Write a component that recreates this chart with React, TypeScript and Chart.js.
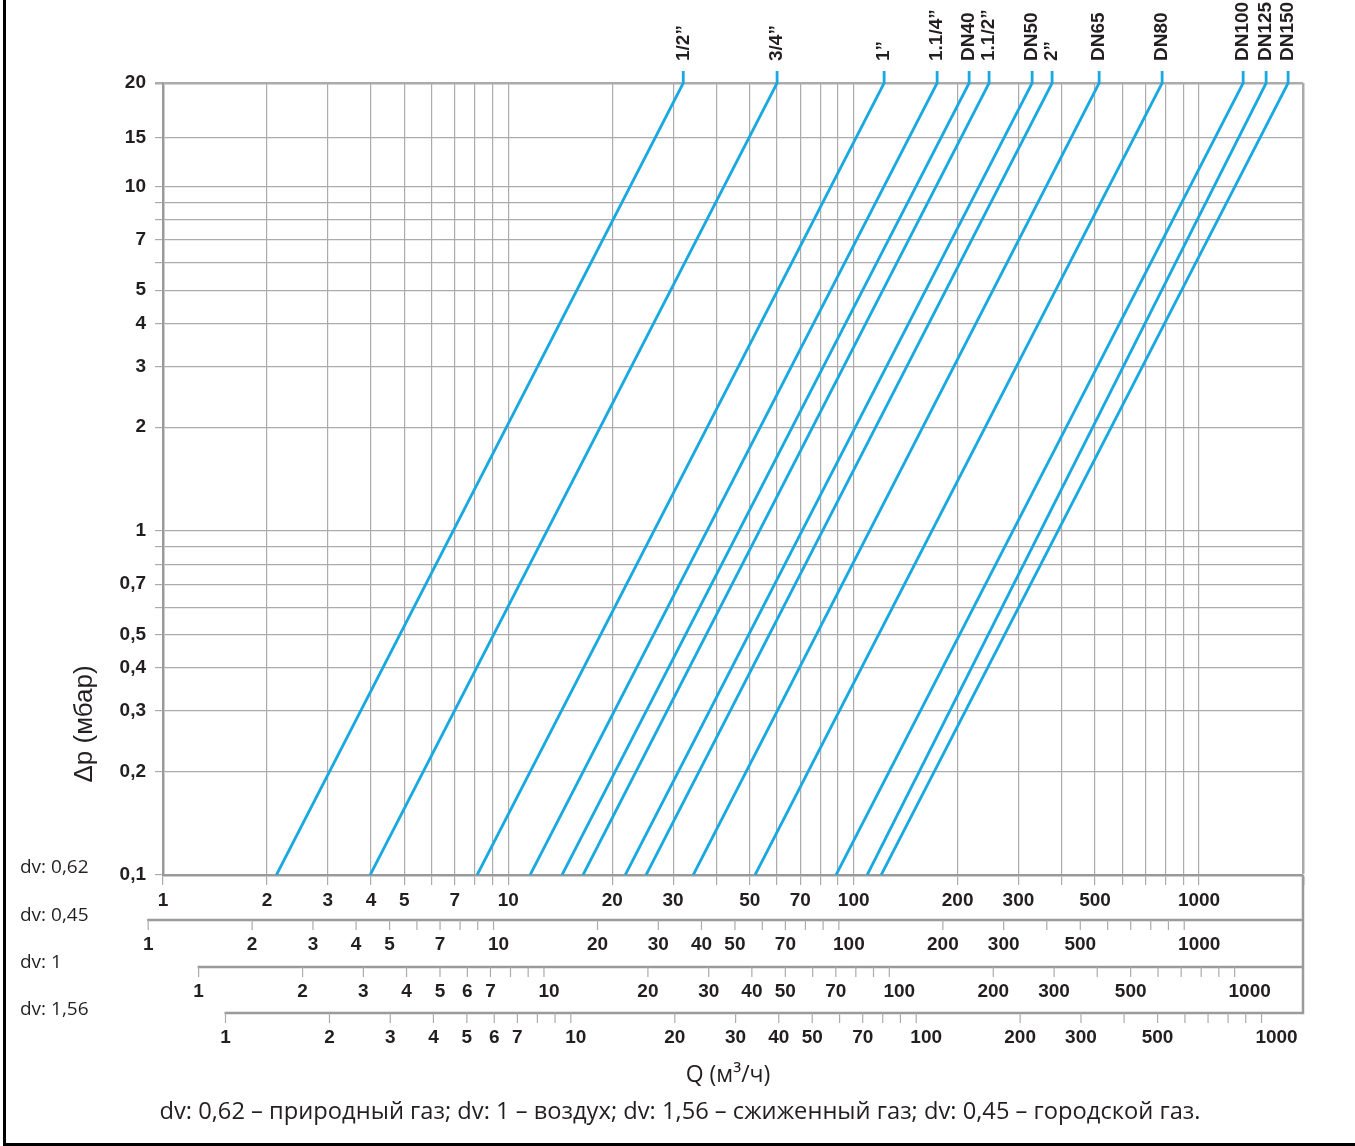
import React, { useEffect, useRef } from "react";
import { Chart, registerables } from "chart.js";

Chart.register(...registerables);

// ---------- data ----------
const SERIES_NAMES = ["1/2”", "3/4”", "1”", "1.1/4”", "DN40", "1.1/2”", "DN50", "2”", "DN65", "DN80", "DN100", "DN125", "DN150"];
// flow Q (m3/h, dv 0.62) where each line meets Δp = 0.1 mbar and Δp = 20 mbar
const Q_AT_MIN_DP = [2.13, 3.98, 8.12, 11.56, 14.3, 16.45, 21.8, 25.05, 34.3, 51.8, 88.9, 109.4, 120.1];
const Q_AT_MAX_DP = [32.1, 60.0, 122.5, 174.4, 215.9, 246.6, 328.6, 375.4, 513.7, 781.8, 1342, 1564, 1811];
const DP_MIN = 0.1;
const DP_MAX = 20;
const Q_MIN = 1;
const Q_MAX = 2000;

const Y_TICKS = [0.1, 0.2, 0.3, 0.4, 0.5, 0.6, 0.7, 0.8, 0.9, 1, 2, 3, 4, 5, 6, 7, 8, 9, 10, 13.9, 20];
const Y_TICK_LABELS = ["0,1", "0,2", "0,3", "0,4", "0,5", "", "0,7", "", "", "1", "2", "3", "4", "5", "", "7", "", "", "10", "15", "20"];

const X_GRID = [1, 2, 3, 4, 5, 6, 7, 8, 9, 10, 20, 30, 40, 50, 60, 70, 80, 90, 100, 200, 300, 400, 500, 600, 700, 800, 900, 1000, 2000];
const X_TICKS_ROW = [1, 2, 3, 4, 5, 6, 7, 8, 9, 10, 20, 30, 40, 50, 60, 70, 80, 90, 100, 200, 300, 400, 500, 600, 700, 800, 900, 1000];

const DV_NAMES = ["dv: 0,62", "dv: 0,45", "dv: 1", "dv: 1,56"];
// position of value v of each dv scale on the dv 0.62 scale = v * factor
const DV_FACTORS = [1, 0.906, 1.268, 1.517];
const ROW_LABELS_062 = [1, 2, 3, 4, 5, 7, 10, 20, 30, 50, 70, 100, 200, 300, 500, 1000];
const ROW_LABELS_045 = [1, 2, 3, 4, 5, 7, 10, 20, 30, 40, 50, 70, 100, 200, 300, 500, 1000];
const ROW_LABELS_1 = [1, 2, 3, 4, 5, 6, 7, 10, 20, 30, 40, 50, 70, 100, 200, 300, 500, 1000];
const ROW_LABELS_156 = [1, 2, 3, 4, 5, 6, 7, 10, 20, 30, 40, 50, 70, 100, 200, 300, 500, 1000];

const Y_TITLE = "Δp (мбар)";
const X_TITLE = "Q (м³/ч)";
const FOOTNOTE = "dv: 0,62 – природный газ; dv: 1 – воздух; dv: 1,56 – сжиженный газ; dv: 0,45 – городской газ.";

// ---------- styles ----------
const LINE_COLOR = "#19a8e0";
const GRID_COLOR = "#ababab";
const FRAME_COLOR = "#9a9a9a";
const TEXT_COLOR = "#231f20";
const ARIAL = "'Liberation Sans', Arial, sans-serif";
const BOLD_FONT = `bold 19px ${ARIAL}`;
const SANS = "'Open Sans', 'Noto Sans', sans-serif";

const W = 1355;
const H = 1146;

const extrasPlugin = {
  id: "extras",
  afterDraw(chart: any) {
    const ctx = chart.ctx as CanvasRenderingContext2D;
    const xs = chart.scales.x;
    const area = chart.chartArea;
    ctx.save();

    // stubs + series labels at the top
    SERIES_NAMES.forEach((name, i) => {
      const meta = chart.getDatasetMeta(i);
      const pt = meta.data[meta.data.length - 1];
      ctx.strokeStyle = LINE_COLOR;
      ctx.lineWidth = 2.8;
      ctx.beginPath();
      ctx.moveTo(pt.x, pt.y + 1);
      ctx.lineTo(pt.x, pt.y - 12);
      ctx.stroke();
      ctx.save();
      ctx.translate(pt.x, pt.y - 22);
      ctx.rotate(-Math.PI / 2);
      ctx.font = BOLD_FONT;
      ctx.fillStyle = TEXT_COLOR;
      ctx.textAlign = "left";
      ctx.textBaseline = "middle";
      ctx.fillText(name, 0, 0);
      ctx.restore();
    });

    // additional dv axes
    const rows = [ROW_LABELS_045, ROW_LABELS_1, ROW_LABELS_156];
    const gaps = [45, 92, 138];
    rows.forEach((labels, r) => {
      const f = DV_FACTORS[r + 1];
      const y0 = area.bottom + gaps[r];
      const x1 = xs.getPixelForValue(Q_MIN * f) - 1;
      ctx.strokeStyle = FRAME_COLOR;
      ctx.lineWidth = 2.5;
      ctx.beginPath();
      ctx.moveTo(x1, y0);
      ctx.lineTo(area.right + 1, y0);
      ctx.stroke();
      ctx.strokeStyle = GRID_COLOR;
      ctx.lineWidth = 1.2;
      X_TICKS_ROW.forEach((v) => {
        const px = xs.getPixelForValue(v * f);
        ctx.beginPath();
        ctx.moveTo(px, y0);
        ctx.lineTo(px, y0 + 10);
        ctx.stroke();
      });
      ctx.font = BOLD_FONT;
      ctx.fillStyle = TEXT_COLOR;
      ctx.textAlign = "center";
      ctx.textBaseline = "middle";
      labels.forEach((v) => {
        const px = xs.getPixelForValue(v * f);
        const off = v === 10 ? 5 : v === 100 ? 10 : v === 1000 ? 15 : 0;
        ctx.fillText(String(v), px + off, y0 + 25);
      });
    });
    // right closing line of the axis block
    ctx.strokeStyle = FRAME_COLOR;
    ctx.lineWidth = 2.5;
    ctx.beginPath();
    ctx.moveTo(area.right, area.bottom);
    ctx.lineTo(area.right, area.bottom + gaps[2] + 1);
    ctx.stroke();

    // dv names on the left
    ctx.font = `19px ${SANS}`;
    ctx.fillStyle = TEXT_COLOR;
    ctx.textAlign = "left";
    ctx.textBaseline = "middle";
    const nameY = [area.bottom - 7, area.bottom + 41, area.bottom + 88, area.bottom + 135];
    DV_NAMES.forEach((n, i) => ctx.fillText(n, 20, nameY[i]));

    // axis titles
    ctx.font = `23px ${SANS}`;
    ctx.textAlign = "center";
    ctx.fillText(X_TITLE, 728, area.bottom + 200);
    ctx.save();
    ctx.translate(85, 724);
    ctx.rotate(-Math.PI / 2);
    ctx.font = `26px ${ARIAL}`;
    ctx.fillText(Y_TITLE, 0, 0);
    ctx.restore();

    // footnote
    ctx.font = `23.7px ${SANS}`;
    ctx.fillText(FOOTNOTE, 680, area.bottom + 237);

    // outer frame (left and bottom)
    ctx.fillStyle = "#000";
    ctx.fillRect(3, 0, 3, H);
    ctx.fillRect(3, H - 3, W - 3, 3);
    ctx.restore();
  },
};

export default function App() {
  const ref = useRef<HTMLCanvasElement | null>(null);

  useEffect(() => {
    document.body.style.margin = "0";
    document.body.style.overflow = "hidden";
    const canvas = ref.current;
    if (!canvas) return;

    const datasets = SERIES_NAMES.map((name, i) => ({
      label: name,
      data: [
        { x: Q_AT_MIN_DP[i], y: DP_MIN },
        { x: Q_AT_MAX_DP[i], y: DP_MAX },
      ],
      borderColor: LINE_COLOR,
      backgroundColor: LINE_COLOR,
      borderWidth: 2.8,
      pointRadius: 0,
      showLine: true,
      tension: 0,
    }));

    const tickFont = { family: ARIAL, size: 19, weight: "bold" };

    const chart = new Chart(canvas, {
      type: "scatter",
      data: { datasets },
      plugins: [extrasPlugin],
      options: {
        responsive: false,
        animation: false,
        devicePixelRatio: 1,
        layout: { padding: { left: 0, top: 83, right: W - 1303, bottom: 0 } },
        plugins: { legend: { display: false }, tooltip: { enabled: false }, title: { display: false } },
        scales: {
          x: {
            type: "logarithmic",
            position: "bottom",
            min: Q_MIN,
            max: Q_MAX,
            afterBuildTicks: (scale: any) => {
              scale.ticks = X_GRID.map((v) => ({ value: v }));
            },
            afterFit: (scale: any) => {
              scale.height = H - 875;
            },
            grid: {
              color: GRID_COLOR,
              lineWidth: (c: any) => (c.tick && c.tick.value === Q_MAX ? 2.5 : 1.2),
              drawTicks: true,
              tickLength: 10,
              tickColor: GRID_COLOR,
            },
            border: { display: true, color: FRAME_COLOR, width: 2.5 },
            ticks: {
              autoSkip: false,
              maxRotation: 0,
              minRotation: 0,
              padding: 4,
              color: TEXT_COLOR,
              font: tickFont,
              callback: (v: any) => (ROW_LABELS_062.includes(Number(v)) ? String(v) : ""),
            },
          },
          y: {
            type: "logarithmic",
            position: "left",
            min: DP_MIN,
            max: DP_MAX,
            afterBuildTicks: (scale: any) => {
              scale.ticks = Y_TICKS.map((v) => ({ value: v }));
            },
            afterFit: (scale: any) => {
              scale.width = 163;
            },
            grid: {
              color: GRID_COLOR,
              lineWidth: (c: any) => (c.tick && c.tick.value === DP_MAX ? 2.5 : 1.2),
              drawTicks: true,
              tickLength: 8,
              tickColor: GRID_COLOR,
            },
            border: { display: true, color: FRAME_COLOR, width: 2.5 },
            ticks: {
              autoSkip: false,
              padding: 9,
              color: TEXT_COLOR,
              font: tickFont,
              callback: (v: any) => {
                const idx = Y_TICKS.indexOf(Number(v));
                return idx >= 0 ? Y_TICK_LABELS[idx] : "";
              },
            },
          },
        },
      } as any,
    });
    return () => chart.destroy();
  }, []);

  return (
    <div style={{ width: W, height: H, position: "relative" }}>
      <canvas ref={ref} width={W} height={H} style={{ display: "block", width: W, height: H }} />
    </div>
  );
}
